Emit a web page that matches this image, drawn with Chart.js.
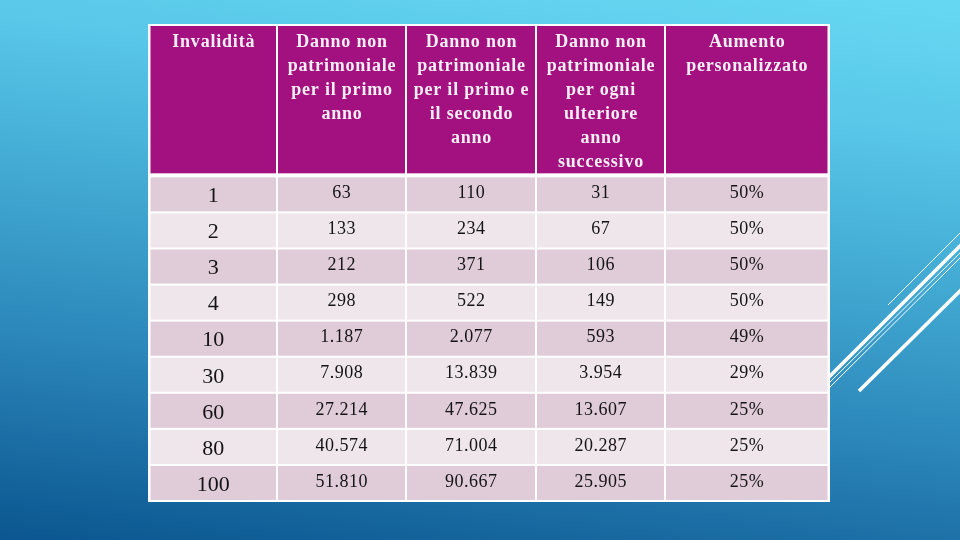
<!DOCTYPE html>
<html lang="it">
<head>
<meta charset="UTF-8">
<title>Invalidità – danno non patrimoniale</title>
<script src="https://cdn.jsdelivr.net/npm/chart.js@4.4.1/dist/chart.umd.min.js"></script>
<style>
  html, body { margin: 0; padding: 0; }
  body {
    width: 960px; height: 540px; overflow: hidden;
    background: linear-gradient(187deg, #67d8f3 0%, #59c8e9 20%, #41a8d1 45%, #2a84b8 70%, #0b5690 100%);
  }
  .wrap { position: relative; width: 960px; height: 540px; }
</style>
</head>
<body>
<div class="wrap"><canvas id="chart"></canvas></div>
<script>
// table content
const headers = [
  ['Invalidità'],
  ['Danno non', 'patrimoniale', 'per il primo', 'anno'],
  ['Danno non', 'patrimoniale', 'per il primo e', 'il secondo', 'anno'],
  ['Danno non', 'patrimoniale', 'per ogni', 'ulteriore', 'anno', 'successivo'],
  ['Aumento', 'personalizzato']
];
const invalidita = [1, 2, 3, 4, 10, 30, 60, 80, 100];
const primoAnno = [63, 133, 212, 298, 1187, 7908, 27214, 40574, 51810];
const primoSecondoAnno = [110, 234, 371, 522, 2077, 13839, 47625, 71004, 90667];
const ulterioreAnno = [31, 67, 106, 149, 593, 3954, 13607, 20287, 25905];
const aumento = [50, 50, 50, 50, 49, 29, 25, 25, 25];

// layout in scale units (x: table width, y: table height)
const colEdges = [0, 129, 258, 388, 517, 682];
const headerHeight = 152;
const rowHeight = 36;

const PURPLE = '#a2117f';
const ROW_DARK = '#e0ccd8';
const ROW_LIGHT = '#eee6eb';

function fmtIt(n) {
  return String(n).replace(/\B(?=(\d{3})+(?!\d))/g, '.');
}

const columns = [
  invalidita.map(String),
  primoAnno.map(fmtIt),
  primoSecondoAnno.map(fmtIt),
  ulterioreAnno.map(fmtIt),
  aumento.map((v) => v + '%')
];

const decoPlugin = {
  id: 'deco',
  beforeDraw(chart) {
    const ctx = chart.ctx;
    ctx.save();
    ctx.strokeStyle = '#ffffff';
    const lines = [
      [888, 305, 962, 231, 1],
      [828, 378, 962, 244, 3.5],
      [828, 384, 962, 251, 1],
      [828, 389, 962, 256, 1],
      [859, 391, 962, 289, 3.5]
    ];
    for (const [x0, y0, x1, y1, w] of lines) {
      ctx.lineWidth = w;
      ctx.beginPath();
      ctx.moveTo(x0, y0);
      ctx.lineTo(x1, y1);
      ctx.stroke();
    }
    ctx.restore();
  }
};

const tablePlugin = {
  id: 'table',
  afterDraw(chart) {
    const { ctx, scales: { x, y } } = chart;
    const nRows = invalidita.length;
    const bottom = headerHeight + nRows * rowHeight + 1;
    ctx.save();
    // white grid / border
    ctx.fillStyle = '#ffffff';
    const tx0 = x.getPixelForValue(0), tx1 = x.getPixelForValue(colEdges[colEdges.length - 1]);
    const ty0 = y.getPixelForValue(0), ty1 = y.getPixelForValue(bottom);
    ctx.fillRect(tx0, ty0, tx1 - tx0, ty1 - ty0);

    const cell = (c, top, bot) => {
      const l = x.getPixelForValue(colEdges[c]) + (c === 0 ? 2.5 : 1);
      const r = x.getPixelForValue(colEdges[c + 1]) - (c === colEdges.length - 2 ? 2.5 : 1);
      const t = y.getPixelForValue(top);
      const b = y.getPixelForValue(bot);
      return { l, r, t, b, cx: (l + r) / 2, cy: (t + b) / 2 };
    };

    // header
    for (let c = 0; c < headers.length; c++) {
      const k = cell(c, 0, headerHeight);
      ctx.fillStyle = PURPLE;
      ctx.fillRect(k.l, k.t + 2, k.r - k.l, k.b - k.t - 5);
      ctx.fillStyle = '#f7eef6';
      ctx.font = 'bold 18px "Liberation Serif", "DejaVu Serif", serif';
      ctx.letterSpacing = '0.8px';
      ctx.textAlign = 'center';
      ctx.textBaseline = 'middle';
      headers[c].forEach((line, i) => {
        ctx.fillText(line, k.cx + 0.5, k.t + 18 + 24 * i);
      });
    }

    // body rows
    for (let r = 0; r < nRows; r++) {
      const top = headerHeight + r * rowHeight;
      for (let c = 0; c < columns.length; c++) {
        const k = cell(c, top, top + rowHeight);
        ctx.fillStyle = r % 2 === 0 ? ROW_DARK : ROW_LIGHT;
        ctx.fillRect(k.l, k.t + 1, k.r - k.l, k.b - k.t - 2);
        ctx.fillStyle = '#141414';
        ctx.textAlign = 'center';
        ctx.textBaseline = 'middle';
        if (c === 0) {
          ctx.font = '22px "Liberation Serif", "DejaVu Serif", serif';
          ctx.letterSpacing = '0px';
          ctx.fillText(columns[c][r], k.cx, k.cy + 2);
        } else {
          ctx.font = '18px "Liberation Serif", "DejaVu Serif", serif';
          ctx.letterSpacing = '0.5px';
          ctx.fillText(columns[c][r], k.cx + 0.3, k.cy - 1);
        }
      }
    }
    ctx.restore();
  }
};

new Chart(document.getElementById('chart'), {
  type: 'scatter',
  data: { datasets: [{ data: [] }] },
  options: {
    responsive: true,
    maintainAspectRatio: false,
    animation: false,
    events: [],
    layout: { padding: { left: 148, right: 130, top: 24, bottom: 38 } },
    plugins: { legend: { display: false }, tooltip: { enabled: false } },
    scales: {
      x: { type: 'linear', min: 0, max: colEdges[colEdges.length - 1], display: false },
      y: { type: 'linear', min: 0, max: headerHeight + invalidita.length * rowHeight + 1, reverse: true, display: false }
    }
  },
  plugins: [decoPlugin, tablePlugin]
});
</script>
</body>
</html>
